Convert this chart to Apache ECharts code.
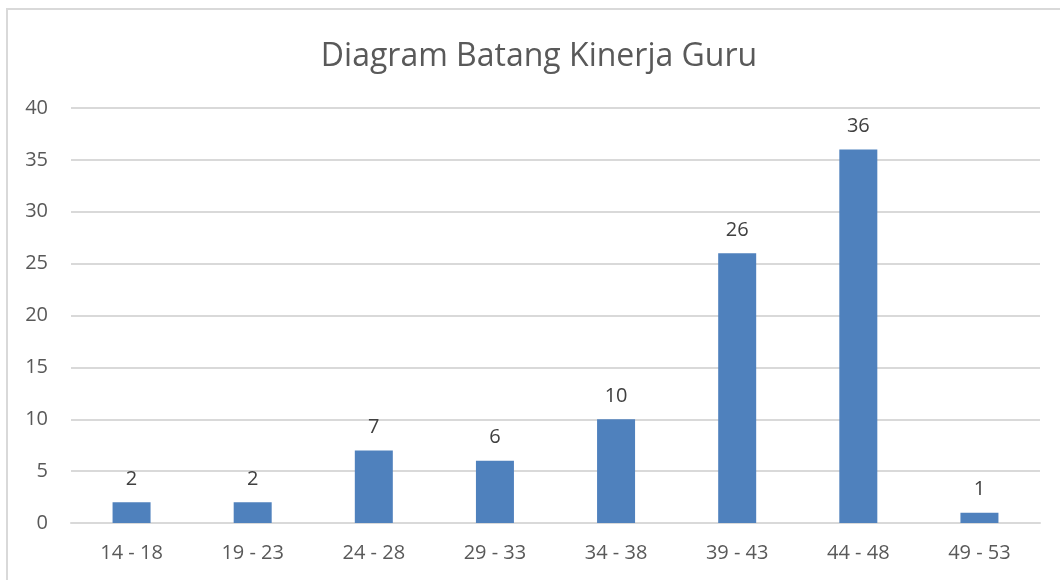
<!DOCTYPE html>
<html>
<head>
<meta charset="utf-8">
<script src="https://cdn.jsdelivr.net/npm/echarts@6/dist/echarts.min.js"></script>
<style>
html,body{margin:0;padding:0;background:#fff;}
#chart{width:1060px;height:580px;}
</style>
</head>
<body>
<div id="chart"></div>
<script>
const titleText = "Diagram Batang Kinerja Guru";
const categories = ["14 - 18", "19 - 23", "24 - 28", "29 - 33", "34 - 38", "39 - 43", "44 - 48", "49 - 53"];
const values = [2, 2, 7, 6, 10, 26, 36, 1];
const yMin = 0, yMax = 40, yStep = 5;

const FONT = "'Open Sans', 'Noto Sans', sans-serif";
const chart = echarts.init(document.getElementById('chart'), null, {renderer: 'canvas'});
chart.setOption({
  backgroundColor: '#ffffff',
  animation: false,
  graphic: [{
    type: 'rect',
    shape: {x: 7, y: 9, width: 1070, height: 590},
    style: {fill: 'none', stroke: '#d9d9d9', lineWidth: 2},
    silent: true
  }],
  title: {
    text: titleText,
    left: 534,
    textAlign: 'center',
    top: 36,
    textStyle: {fontFamily: FONT, fontSize: 32, fontWeight: 'normal', color: '#595959'}
  },
  grid: {left: 71, right: 20, top: 108, bottom: 57, containLabel: false},
  xAxis: {
    type: 'category',
    data: categories,
    axisLine: {show: true, lineStyle: {color: '#d9d9d9', width: 2}},
    axisTick: {show: false},
    axisLabel: {fontFamily: FONT, fontSize: 20, color: '#595959', margin: 20}
  },
  yAxis: {
    type: 'value',
    min: yMin, max: yMax, interval: yStep,
    axisLine: {show: false},
    axisTick: {show: false},
    splitLine: {lineStyle: {color: '#d9d9d9', width: 2}},
    axisLabel: {fontFamily: FONT, fontSize: 20, color: '#595959', margin: 23}
  },
  series: [{
    type: 'bar',
    data: values,
    barWidth: 38,
    itemStyle: {color: '#4f81bd'},
    label: {show: true, position: 'top', distance: 13, fontFamily: FONT, fontSize: 20, color: '#404040'}
  }]
});
</script>
</body>
</html>
